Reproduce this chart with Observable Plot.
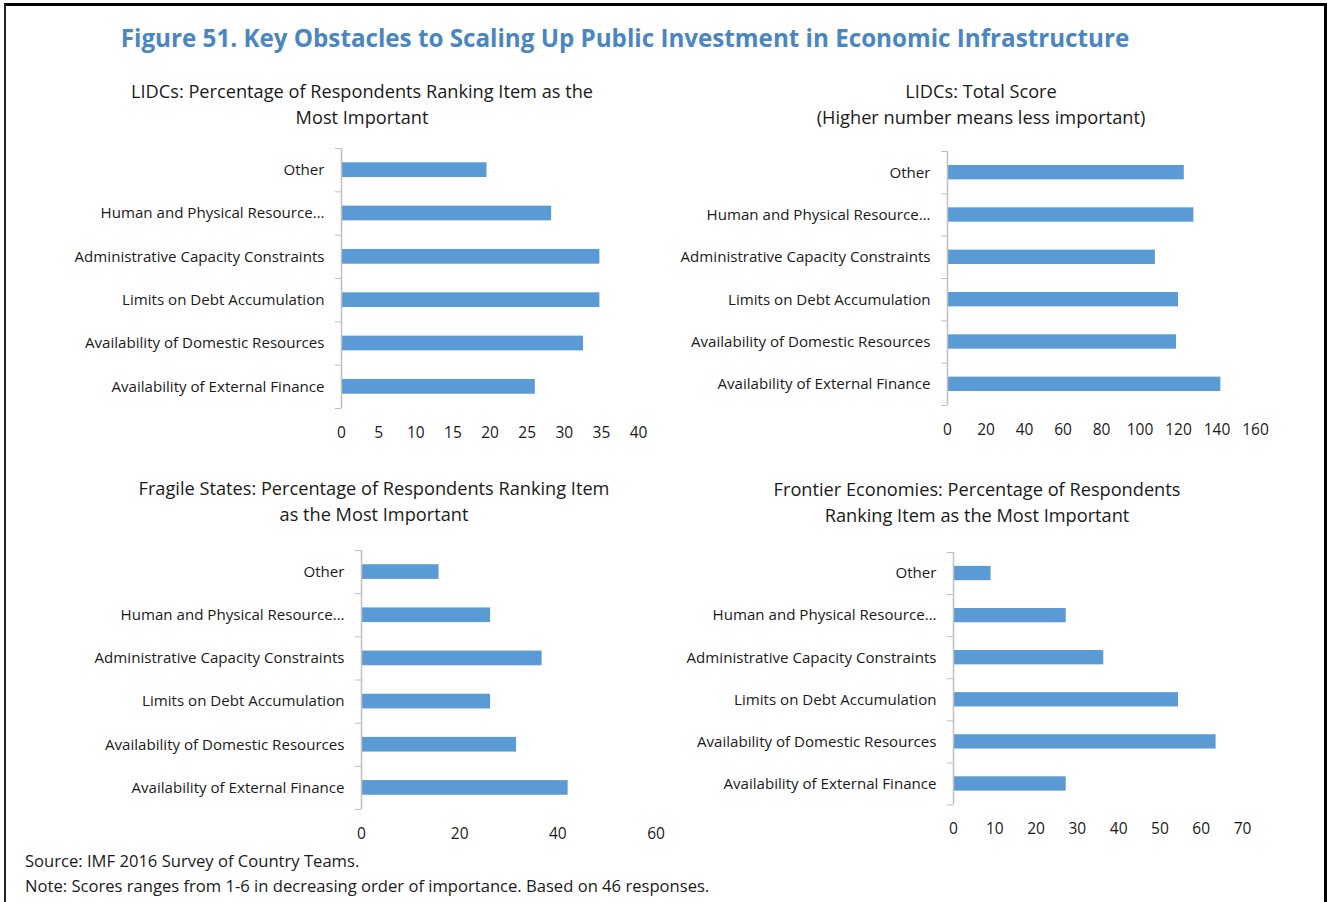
<!DOCTYPE html>
<html><head><meta charset="utf-8">
<script src="https://cdn.jsdelivr.net/npm/d3@7"></script>
<script src="https://cdn.jsdelivr.net/npm/@observablehq/plot@0.6"></script>
<style>
body{margin:0;background:#fff;}
#wrap{position:relative;width:1327px;height:902px;overflow:hidden;background:#fff;font-family:"Open Sans",sans-serif;color:#1a1a1a;}
.frame-top{position:absolute;left:4px;top:3px;width:1323px;height:3px;background:#000;}
.frame-left{position:absolute;left:4px;top:3px;width:2px;height:899px;background:#222;}
.frame-right{position:absolute;left:1324px;top:3px;width:3px;height:899px;background:#000;}
.main-title{position:absolute;left:0;width:1250px;top:20px;text-align:center;font-weight:700;font-size:24.2px;color:#4a86c2;line-height:36px;white-space:nowrap;}
.ptitle{position:absolute;width:600px;text-align:center;font-size:18.2px;line-height:26px;white-space:nowrap;}
.note{position:absolute;left:25px;font-size:16.6px;line-height:25px;white-space:nowrap;}
</style></head><body><div id="wrap">
<div class="frame-top"></div><div class="frame-left"></div><div class="frame-right"></div>
<div class="main-title">Figure 51. Key Obstacles to Scaling Up Public Investment in Economic Infrastructure</div>
<div class="ptitle" style="left:62px;top:78px">LIDCs: Percentage of Respondents Ranking Item as the<br>Most Important</div>
<div class="ptitle" style="left:681px;top:78px">LIDCs: Total Score<br>(Higher number means less important)</div>
<div class="ptitle" style="left:74px;top:475px">Fragile States: Percentage of Respondents Ranking Item<br>as the Most Important</div>
<div class="ptitle" style="left:677px;top:476px">Frontier Economies: Percentage of Respondents<br>Ranking Item as the Most Important</div>
<div class="note" style="top:848px">Source: IMF 2016 Survey of Country Teams.</div>
<div class="note" style="top:873px">Note: Scores ranges from 1-6 in decreasing order of importance. Based on 46 responses.</div>
</div>
<script>
const categories = ["Other","Human and Physical Resource\u2026","Administrative Capacity Constraints","Limits on Debt Accumulation","Availability of Domestic Resources","Availability of External Finance"];
const lidcPct = [19.6, 28.3, 34.8, 34.8, 32.6, 26.1];
const lidcScore = [123, 128, 108, 120, 119, 142];
const fragilePct = [15.8, 26.3, 36.8, 26.3, 31.6, 42.1];
const frontierPct = [9.1, 27.3, 36.4, 54.5, 63.6, 27.3];
const ticksLidcPct = [0, 5, 10, 15, 20, 25, 30, 35, 40];
const ticksLidcScore = [0, 20, 40, 60, 80, 100, 120, 140, 160];
const ticksFragile = [0, 20, 40, 60];
const ticksFrontier = [0, 10, 20, 30, 40, 50, 60, 70];

const panels = [
  {values: lidcPct, ticks: ticksLidcPct, pl: 341, pr: 638, pt: 148, pb: 408},
  {values: lidcScore, ticks: ticksLidcScore, pl: 947, pr: 1255, pt: 150.5, pb: 404.5},
  {values: fragilePct, ticks: ticksFragile, pl: 361, pr: 655.5, pt: 550, pb: 809},
  {values: frontierPct, ticks: ticksFrontier, pl: 952.5, pr: 1241.5, pt: 551.5, pb: 804}
];

const wrap = document.getElementById("wrap");
panels.forEach(p => {
  const left = p.pl - 300, top = p.pt - 10;
  const width = p.pr + 30 - left, height = p.pb + 45 - top;
  const rows = categories.map((c, i) => ({cat: c, i, v: p.values[i]}));
  const chart = Plot.plot({
    width, height,
    marginLeft: p.pl - left, marginRight: width - (p.pr - left),
    marginTop: p.pt - top, marginBottom: height - (p.pb - top),
    style: {fontFamily: "'Open Sans', sans-serif", fontSize: "15.1px", color: "#1a1a1a", background: "transparent", overflow: "visible"},
    x: {domain: [p.ticks[0], p.ticks[p.ticks.length - 1]], axis: null},
    y: {domain: [0, 6], reverse: true, axis: null},
    marks: [
      Plot.rectX(rows, {x1: 0, x2: "v", y1: d => d.i + 0.33, y2: d => d.i + 0.67, fill: "#5b9bd5"}),
      Plot.ruleX([0], {stroke: "#bfbfbf", strokeWidth: 1.5}),
      Plot.axisY({ticks: d3.range(7), tickFormat: () => "", tickSize: 6, stroke: "#bfbfbf", label: null}),
      Plot.text(rows, {x: 0, y: d => d.i + 0.5, text: "cat", dx: -17, textAnchor: "end", fill: "#1a1a1a", fontSize: 15.1}),
      Plot.axisX({ticks: p.ticks, tickSize: 0, tickPadding: 18, tickFormat: d3.format("d"), fontSize: 15.5, label: null})
    ]
  });
  chart.style.position = "absolute";
  chart.style.left = left + "px";
  chart.style.top = top + "px";
  wrap.appendChild(chart);
});
</script></body></html>
